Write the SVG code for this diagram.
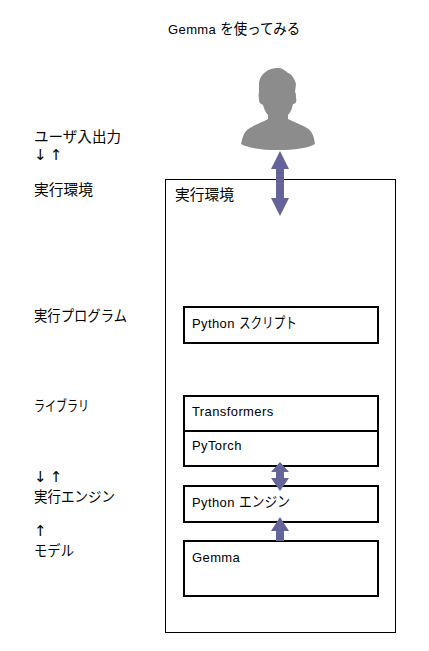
<svg xmlns="http://www.w3.org/2000/svg" width="429" height="651" viewBox="0 0 429 651">
<style>
text{font-family:"Liberation Sans","Noto Sans CJK JP",sans-serif;font-size:13px;letter-spacing:.4px;fill:#000}
.j{font-family:"Noto Sans CJK JP","Liberation Sans",sans-serif;font-size:14.500px;letter-spacing:0}
.a{font-family:"DejaVu Sans",sans-serif;font-size:15px;letter-spacing:-.8px}
.box{fill:#fff;stroke:#000;stroke-width:2}
.arrow{fill:#64649a}
</style>
<rect width="429" height="651" fill="#fff"/>
<text x="168" y="34">Gemma <tspan class="j" textLength="80" lengthAdjust="spacingAndGlyphs">を使ってみる</tspan></text>
<g id="labels">
<text class="j" x="34" y="142" textLength="87" lengthAdjust="spacingAndGlyphs">ユーザ入出力</text>
<text class="a" x="34" y="160" xml:space="preserve">↓ ↑</text>
<text class="j" x="34" y="195" textLength="59" lengthAdjust="spacingAndGlyphs">実行環境</text>
<text class="j" x="34" y="321" textLength="93" lengthAdjust="spacingAndGlyphs">実行プログラム</text>
<text class="j" x="34" y="411" textLength="55" lengthAdjust="spacingAndGlyphs">ライブラリ</text>
<text class="a" x="34" y="481.500" xml:space="preserve">↓ ↑</text>
<text class="j" x="34" y="502" textLength="81" lengthAdjust="spacingAndGlyphs">実行エンジン</text>
<text class="a" x="34" y="535.500">↑</text>
<text class="j" x="34" y="556" textLength="40" lengthAdjust="spacingAndGlyphs">モデル</text>
</g>
<g id="user"><path fill="#8c8c8c" d="M278 68C268 68 260 74 259 83L259 93C258 94 259 97 259 100C259 103 261 104 263 105C264 109 266 113 268 115L268 119C263 122 254 125 250 128C244 131 243 136 241 144C248 148 262 150 278 150C295 150 308 148 315 144C314 136 312 131 307 128C302 125 294 122 288 119L288 115C291 112 292 108 293 104C296 104 297 101 296 98C296 95 296 93 295 92L296 84C295 80 292 74 288 73C285 70 282 68 278 68Z"/></g>
<g id="env"><rect x="165.500" y="179.500" width="230" height="453" fill="#fff" stroke="#000"/><text class="j" x="175" y="200" textLength="59" lengthAdjust="spacingAndGlyphs">実行環境</text></g>
<g id="script"><rect class="box" x="184" y="307" width="194" height="36"/><text x="192" y="328">Python <tspan class="j" textLength="58" lengthAdjust="spacingAndGlyphs">スクリプト</tspan></text></g>
<g id="transformers"><rect class="box" x="184" y="396" width="194" height="35"/><text x="192" y="416">Transformers</text></g>
<g id="pytorch"><rect class="box" x="184" y="431" width="194" height="35"/><text x="192" y="450">PyTorch</text></g>
<g id="engine"><rect class="box" x="184" y="486" width="194" height="36"/><text x="192" y="507">Python <tspan class="j" textLength="51" lengthAdjust="spacingAndGlyphs">エンジン</tspan></text></g>
<g id="gemma"><rect class="box" x="184" y="541" width="194" height="55"/><text x="192" y="562">Gemma</text></g>
<g id="connectors">
<path class="arrow" d="M280 151L289 169L284 169L284 198L289 198L280 216L271 198L276 198L276 169L271 169Z"/>
<path class="arrow" d="M280 462L289 472L284 472L284 478L289 478L280 491L271 478L276 478L276 472L271 472Z"/>
<path class="arrow" d="M280 517L289 531L284 531L284 541L276 541L276 531L271 531Z"/>
</g>
</svg>
